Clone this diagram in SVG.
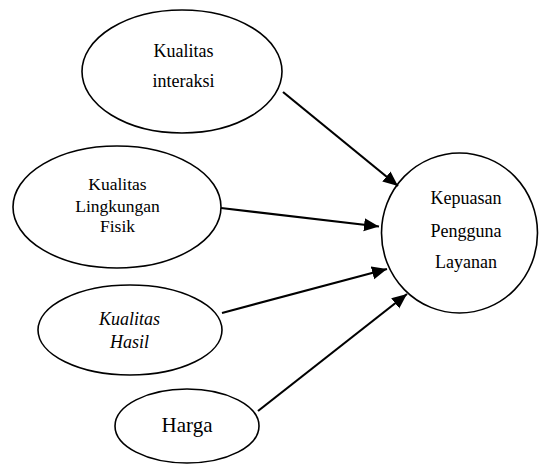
<svg xmlns="http://www.w3.org/2000/svg" width="541" height="465" viewBox="0 0 541 465">
<style>
.node{fill:#fff;stroke:#000;stroke-width:1.6}
.t{font-family:"Liberation Serif","Times New Roman",serif;font-size:18px;fill:#000;text-anchor:middle}
.it{font-style:italic}
.c{stroke:#000;stroke-width:2.2;fill:none;marker-end:url(#ah)}
</style>
<defs>
<marker id="ah" markerUnits="userSpaceOnUse" markerWidth="16" markerHeight="14" refX="15" refY="6.5" orient="auto">
<path d="M0,0 L15,6.5 L0,13 Z" fill="#000"/>
</marker>
</defs>
<rect width="541" height="465" fill="#fff"/>
<g id="n1">
<ellipse class="node" cx="182" cy="71.5" rx="100" ry="61.5"/>
<text class="t" x="183.5" y="57">Kualitas</text>
<text class="t" x="183.5" y="87">interaksi</text>
</g>
<g id="n2">
<ellipse class="node" cx="117" cy="207" rx="104" ry="61"/>
<text class="t" x="117.5" y="190" style="font-size:17.5px">Kualitas</text>
<text class="t" x="117.5" y="212" style="font-size:17.5px">Lingkungan</text>
<text class="t" x="117.5" y="232" style="font-size:17.5px">Fisik</text>
</g>
<g id="n3">
<ellipse class="node" cx="130" cy="330" rx="92" ry="45"/>
<text class="t it" x="129.5" y="325">Kualitas</text>
<text class="t it" x="129.5" y="347.5">Hasil</text>
</g>
<g id="n4">
<ellipse class="node" cx="187" cy="426" rx="72" ry="37"/>
<text class="t" x="187" y="432" style="font-size:21px">Harga</text>
</g>
<g id="n5">
<ellipse class="node" cx="459.5" cy="233" rx="78" ry="80"/>
<text class="t" x="466" y="204">Kepuasan</text>
<text class="t" x="466" y="236.5">Pengguna</text>
<text class="t" x="466" y="267.5">Layanan</text>
</g>
<g id="connectors">
<line class="c" x1="283" y1="92" x2="398" y2="186"/>
<line class="c" x1="221" y1="208" x2="379" y2="226.5"/>
<line class="c" x1="222" y1="313" x2="387" y2="269"/>
<line class="c" x1="258" y1="411" x2="407" y2="294"/>
</g>
</svg>
